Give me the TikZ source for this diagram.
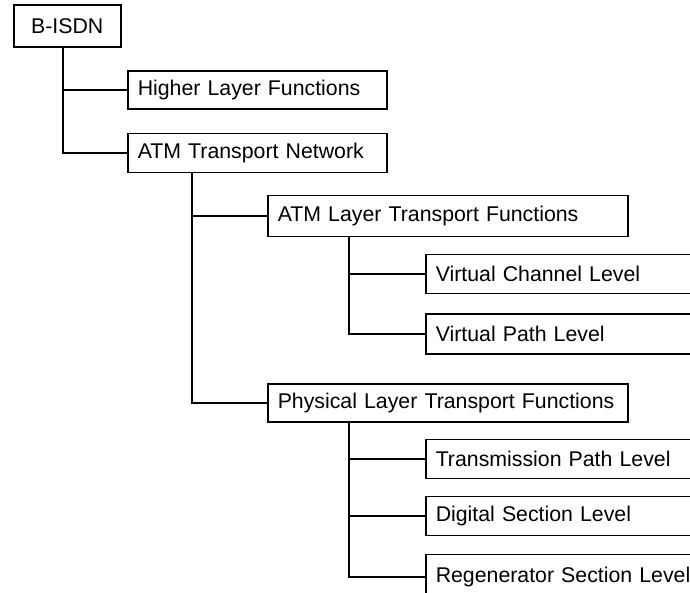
\documentclass[tikz,border=0pt]{standalone}
\usepackage{fontspec}
\setmainfont{Liberation Sans}
\usetikzlibrary{positioning}

\begin{document}
\begin{tikzpicture}[x=1pt, y=-1pt,
		blocco/.style={draw, line width=1.5pt, anchor=west, inner xsep=10pt, inner ysep=0pt, align=left, font=\fontsize{21.3}{25}\selectfont},
		ramo/.style={line width=1.5pt}]
				\useasboundingbox (0,0) rectangle (690,593);
				\clip (0,0) rectangle (690,593);
				
				% Radice
				\node[blocco, align=center, text width=87pt, minimum height=42pt] (bisdn) at (13, 26) {B-ISDN};
				
				% Primo livello
				\node[blocco, text width=239pt, minimum height=38pt] (hlf) at (127, 90) {Higher Layer Functions};
				\node[blocco, text width=239pt, minimum height=39pt] (atn) at (127, 153) {ATM Transport Network};
				
				% Secondo livello
				\node[blocco, text width=340pt, minimum height=41pt] (atlf) at (267, 216) {ATM Layer Transport Functions};
				\node[blocco, text width=340pt, minimum height=38pt] (pltf) at (267, 403) {Physical Layer Transport Functions};
				
				% Livelli (tagliati a destra)
				\node[blocco, text width=270pt, minimum height=39pt] (vcl) at (425, 274) {Virtual Channel Level};
				\node[blocco, text width=270pt, minimum height=40pt] (vpl) at (425, 334) {Virtual Path Level};
				\node[blocco, text width=270pt, minimum height=39pt] (tpl) at (425, 459) {Transmission Path Level};
				\node[blocco, text width=270pt, minimum height=39pt] (dsl) at (425, 516) {Digital Section Level};
				\node[blocco, text width=270pt, minimum height=45pt] (rsl) at (425, 577) {Regenerator Section Level};
				
				% Collegamenti
				\draw[ramo] ([xshift=50pt]bisdn.south west) |- (hlf.west);
				\draw[ramo] ([xshift=50pt]bisdn.south west) |- (atn.west);
				\draw[ramo] ([xshift=65pt]atn.south west) |- (atlf.west);
				\draw[ramo] ([xshift=65pt]atn.south west) |- (pltf.west);
				\draw[ramo] ([xshift=82pt]atlf.south west) |- (vcl.west);
				\draw[ramo] ([xshift=82pt]atlf.south west) |- (vpl.west);
				\draw[ramo] ([xshift=82pt]pltf.south west) |- (tpl.west);
				\draw[ramo] ([xshift=82pt]pltf.south west) |- (dsl.west);
				\draw[ramo] ([xshift=82pt]pltf.south west) |- (rsl.west);
			\end{tikzpicture}
\end{document}
